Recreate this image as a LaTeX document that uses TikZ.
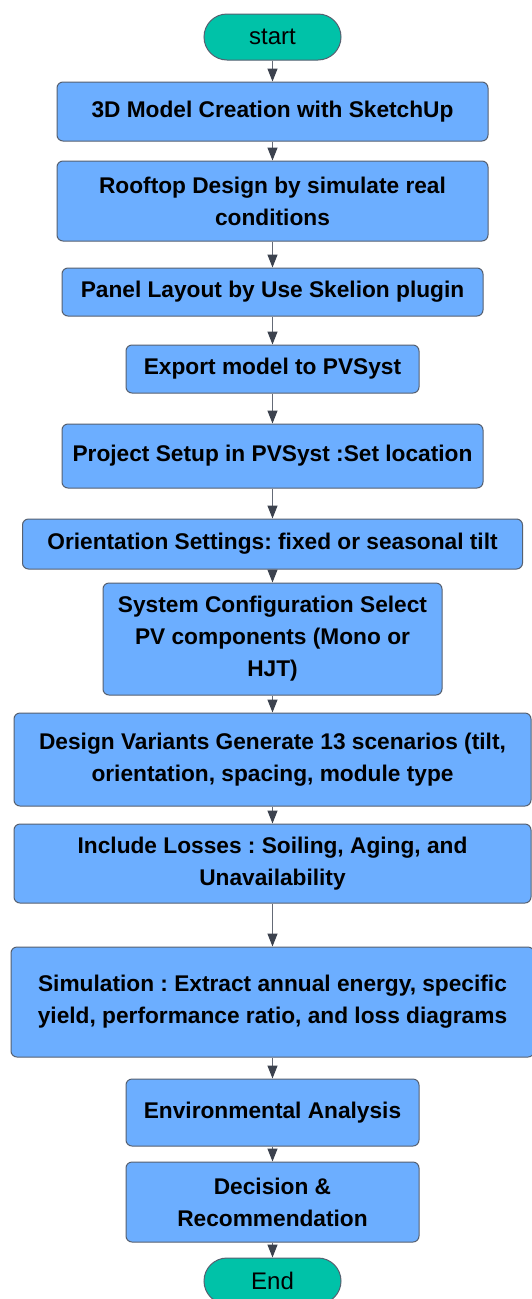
\documentclass[tikz,border=0pt]{standalone}
\usepackage{fontspec}
\setmainfont{Liberation Sans}
\usetikzlibrary{arrows.meta}
\definecolor{boxfill}{RGB}{108,174,255}
\definecolor{boxline}{RGB}{86,96,112}
\definecolor{termfill}{RGB}{0,194,168}
\definecolor{linecol}{RGB}{100,106,118}
\definecolor{arrowcol}{RGB}{60,66,78}
\frenchspacing
\tikzset{
  stepbox/.style={draw=boxline,fill=boxfill,line width=1pt,rounded corners=6pt,
    align=center,inner sep=0pt,font=\fontsize{22.7}{32}\selectfont\bfseries},
  termbox/.style={draw=boxline,fill=termfill,line width=1pt,rounded corners=23pt,
    minimum width=137pt,minimum height=46pt,inner sep=0pt,font=\fontsize{24}{28}\selectfont},
  flow/.style={draw=linecol,line width=1.2pt,-{Triangle[width=10pt,length=13pt,color=arrowcol,fill=arrowcol]}}
}

\begin{document}
\begin{tikzpicture}[x=1pt,y=-1pt]
        \def\cx{272.5};
  % picture frame
  \fill[white] (0,0) rectangle (532,1299);
  \useasboundingbox (0,0) rectangle (532,1299);
        \node[termbox] (start) at (\cx,37) {start};
        \node[stepbox,minimum width=431pt,minimum height=59pt] (model) at (\cx,111.5)
        {3D Model Creation with SketchUp};
        \node[stepbox,minimum width=431pt,minimum height=80pt] (rooftop) at (\cx,201)
        {Rooftop Design by simulate real\\conditions};
        \node[stepbox,minimum width=421pt,minimum height=48pt] (layout) at (\cx,292)
        {Panel Layout by Use Skelion plugin};
        \node[stepbox,minimum width=293pt,minimum height=48pt] (export) at (\cx,369)
        {Export model to PVSyst};
        \node[stepbox,minimum width=421pt,minimum height=64pt] (setup) at (\cx,456)
        {Project Setup in PVSyst :Set location};
        \node[stepbox,minimum width=500pt,minimum height=50pt] (orient) at (\cx,544)
        {Orientation Settings: fixed or seasonal tilt};
        \node[stepbox,minimum width=339pt,minimum height=112pt] (config) at (\cx,639)
        {System Configuration Select\\PV components (Mono or\\HJT)};
        \node[stepbox,minimum width=517pt,minimum height=93pt] (variants) at (\cx,759.5)
        {Design Variants Generate 13 scenarios (tilt,\\orientation, spacing, module type};
        \node[stepbox,minimum width=517pt,minimum height=79pt] (losses) at (\cx,863.5)
        {Include Losses : Soiling, Aging, and\\Unavailability};
        \node[stepbox,minimum width=523pt,minimum height=110pt] (simul) at (\cx,1002)
        {Simulation : Extract annual energy, specific\\yield, performance ratio, and loss diagrams};
        \node[stepbox,minimum width=293pt,minimum height=67pt] (envir) at (\cx,1112.5)
        {Environmental Analysis};
        \node[stepbox,minimum width=293pt,minimum height=80pt] (decide) at (\cx,1202)
        {Decision \&\\Recommendation};
        \node[termbox] (end) at (\cx,1281) {End};
        %connectors
        \draw[flow] (start)--(model);
        \draw[flow] (model)--(rooftop);
        \draw[flow] (rooftop)--(layout);
        \draw[flow] (layout)--(export);
        \draw[flow] (export)--(setup);
        \draw[flow] (setup)--(orient);
        \draw[flow] (orient)--(config);
        \draw[flow] (config)--(variants);
        \draw[flow] (variants)--(losses);
        \draw[flow] (losses)--(simul);
        \draw[flow] (simul)--(envir);
        \draw[flow] (envir)--(decide);
        \draw[flow] (decide)--(end);
      \end{tikzpicture}
\end{document}
